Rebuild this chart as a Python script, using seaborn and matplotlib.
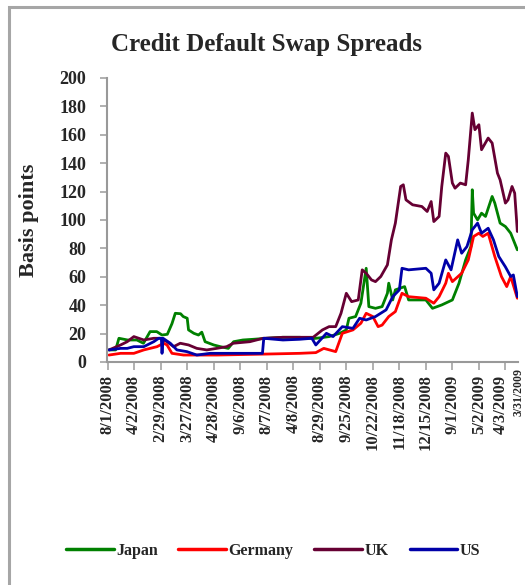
import matplotlib
matplotlib.use("Agg")
import matplotlib.pyplot as plt
from matplotlib.patches import Rectangle
import matplotlib.transforms as mtransforms
import seaborn as sns
import pandas as pd

# ---- data (trading-day index, basis points) ----
japan_day = [1, 6, 8.5, 15, 22, 27, 32, 37, 41, 45, 48.5, 51, 55, 57, 60, 61, 65, 68.5, 71, 73.5,
             80, 85, 91, 95, 102, 110, 120, 132, 145, 155, 160, 167, 175, 180, 182, 187, 191, 195,
             197, 202, 207, 211, 212, 215, 217, 224, 227, 240, 245, 252, 260, 265, 270, 274, 275,
             276, 279, 282, 285, 290, 292, 296, 300, 304, 306, 309]
japan_val = [8.5, 8.5, 16.7, 15.5, 15.5, 13.2, 21.4, 21.4, 19, 19.5, 27, 34.3, 34, 32, 30.8, 22.6,
             20.2, 19, 21, 14.3, 12, 10.8, 9.6, 14.3, 15.5, 16, 16.7, 17.4, 17.4, 16.5, 17, 17.9,
             20.2, 22.6, 30.8, 32, 41.4, 66, 39, 37.8, 39, 48.4, 55.5, 43.7, 50.8, 53.1, 43.7,
             43.7, 37.8, 40.2, 43.7, 55.5, 71.9, 81.3, 121.3, 104.8, 100.1, 104.8, 102.5, 116.6,
             111.9, 97.8, 95.4, 90.7, 86, 79]

germany_day = [1, 9.75, 19.75, 27.25, 37.25, 42.25, 44.75, 48.5, 57.25, 82.25, 119.75, 144.75,
               157, 163, 172, 177, 185, 191, 195, 200, 204, 207, 212, 217, 222, 227, 240, 246,
               250, 255, 257, 260, 267, 272, 276, 280, 283, 287, 292, 297, 301, 304, 309]
germany_val = [4.9, 6.1, 6.1, 8.5, 10.8, 13.2, 12, 6.1, 4.9, 4.9, 5.6, 6.1, 6.6, 9.6, 7.3, 20.2,
               22.6, 27.3, 34.3, 32, 24.9, 26, 32, 35.5, 48.4, 46, 44.9, 41.4, 46, 55.5, 62.5,
               56.6, 62.5, 71.9, 88.4, 90.7, 88.4, 90.7, 74.3, 60.2, 53.1, 60.2, 44.9]

uk_day = [1, 9.75, 14.75, 19.75, 23.5, 27.25, 34.75, 39.75, 44.75, 49.75, 54.75, 61, 67.25,
          74.75, 82.25, 89.75, 94.75, 107.25, 117.25, 132.25, 155, 162, 167, 172, 176, 180, 184,
          189, 192, 195, 199, 202, 206, 211, 214, 217, 221, 223, 225, 230, 237, 241, 244, 246,
          250, 252, 255, 257, 260, 262, 266, 270, 272, 275, 277, 280, 282, 287, 290, 294, 296,
          300, 302, 305, 307, 309]
uk_val = [8.5, 12, 14.3, 17.9, 16.7, 15.5, 16.7, 16.7, 14.3, 10.8, 13.2, 12, 9.6, 8.5, 9.6,
          10.8, 13.2, 14.3, 16.7, 17.4, 17.4, 22.6, 24.9, 24.9, 34.3, 48.4, 42.5, 43.7, 64.9,
          62.5, 57.8, 56.6, 60.2, 68.4, 86, 97.8, 123.6, 124.8, 114.2, 110.7, 109.5, 106, 113,
          98.9, 102.5, 123.6, 147.1, 144.8, 126, 122.4, 126, 124.8, 142.4, 175.3, 163.6, 167.1,
          149.5, 157.7, 154.2, 133, 128.3, 111.9, 114.2, 123.6, 118.9, 91.9]

us_day = [1, 9.75, 14.75, 19.75, 27.25, 34.75, 38.5, 40.5, 41, 41.75, 47.25, 52.25, 59.75,
          67.25, 77.25, 94.75, 114.75, 116.75, 117.75, 132.25, 144.75, 154, 157, 165, 170, 177,
          185, 190, 195, 202, 210, 215, 220, 222, 227, 240, 244, 246, 250, 255, 259, 264, 267,
          271, 275, 279, 282, 287, 291, 295, 300, 304, 306, 309]
us_val = [8.5, 9.6, 9.6, 10.8, 10.8, 14.3, 16.7, 16.7, 6.1, 16.7, 13.2, 8.5, 7.3, 4.9, 6.1,
          6.1, 6.1, 6.1, 16.7, 15.5, 16, 16.7, 12, 20.2, 17.9, 24.9, 23.7, 30.8, 29.6, 32, 36.7,
          46, 50.8, 66, 64.9, 66, 62.5, 50.8, 55.5, 71.9, 64.9, 86, 76.6, 81.3, 93.1, 97.8, 90.7,
          94.2, 86, 74.3, 67, 60.2, 61.3, 46]

countries = ["Japan", "Germany", "UK", "US"]
colors = ["#008000", "#FF0000", "#660033", "#0000A8"]

tick_days = [0, 20, 40, 60, 80, 100, 120, 140, 160, 180, 200, 220, 240, 260, 280, 300]
tick_labels = ["8/1/2008", "4/2/2008", "2/29/2008", "3/27/2008", "4/28/2008", "9/6/2008",
               "8/7/2008", "4/8/2008", "8/29/2008", "9/25/2008", "10/22/2008", "11/18/2008",
               "12/15/2008", "9/1/2009", "5/2/2009", "4/3/2009"]
last_label = "3/31/2009"
y_ticks = [0, 20, 40, 60, 80, 100, 120, 140, 160, 180, 200]

# ---- build long frame ----
frames = []
for name, d, v in [("Japan", japan_day, japan_val), ("Germany", germany_day, germany_val),
                   ("UK", uk_day, uk_val), ("US", us_day, us_val)]:
    frames.append(pd.DataFrame({"day": d, "value": v, "country": name}))
df = pd.concat(frames, ignore_index=True)

sns.set_style("white")
plt.rcParams["font.family"] = ["Liberation Serif", "DejaVu Serif"]
plt.rcParams["font.weight"] = "bold"

fig = plt.figure(figsize=(5.25, 5.85), dpi=100)
ax = fig.add_axes([107 / 525, 1 - 362 / 585, (518 - 107) / 525, (362 - 78) / 585])

sns.lineplot(data=df, x="day", y="value", hue="country", hue_order=countries,
             palette=dict(zip(countries, colors)), estimator=None, sort=True,
             linewidth=2.0, ax=ax, legend=True)

ax.set_xlim(-0.5, 309.5)
ax.set_ylim(0, 200)
ax.set_yticks(y_ticks)
ax.set_yticklabels([str(v) for v in y_ticks], fontsize=13, fontweight="bold")
ax.set_xticks(tick_days)
ax.set_xticklabels(tick_labels, rotation=90, fontsize=12, fontweight="bold")
ax.tick_params(axis="x", which="major", length=6, width=1.3, color="#aaaaaa",
               direction="out", pad=3, bottom=True)
ax.tick_params(axis="y", length=5, width=1.3, color="#aaaaaa", direction="out", pad=10, left=True)

# nudge the crowded final major label a little left to make room for the end label
xt_labels = ax.get_xticklabels()
xt_labels[-1].set_transform(xt_labels[-1].get_transform() +
                            mtransforms.ScaledTranslation(-5 / 100, 0, fig.dpi_scale_trans))

# last date label sits just past the last tick
trans = mtransforms.blended_transform_factory(ax.transAxes, fig.transFigure)
ax.text((518.5 - 107) / 411, 1 - 368 / 585, last_label, transform=trans, rotation=90,
        ha="center", va="top", fontsize=8.5, fontweight="bold", clip_on=False)

for s in ["top", "right"]:
    ax.spines[s].set_visible(False)
for s in ["left", "bottom"]:
    ax.spines[s].set_color("#999999")
    ax.spines[s].set_linewidth(1.5)

ax.set_xlabel("")
ax.set_ylabel("Basis points", fontsize=16, fontweight="bold")
ax.yaxis.set_label_coords((39 - 107) / 411, 0.5)

fig.text(0.508, 1 - 44 / 585, "Credit Default Swap Spreads", ha="center", va="center",
         fontsize=18, fontweight="bold")

handles, labels = ax.get_legend_handles_labels()
ax.get_legend().remove()
for h in handles:
    h.set_linewidth(2.5)
fig.legend(handles, labels, loc="center", bbox_to_anchor=(0.52, 1 - 551 / 585), ncol=4,
           frameon=False, handlelength=3.0, handletextpad=0.15, columnspacing=1.3,
           prop={"family": "Liberation Serif", "weight": "bold", "size": 11.5})

fig.patches.append(Rectangle((9 / 525, -0.05), 1.2, 1.05 - 7 / 585, transform=fig.transFigure,
                             fill=False, edgecolor="#a6a6a6", linewidth=2.2))

fig.savefig("out.png", dpi=100)
